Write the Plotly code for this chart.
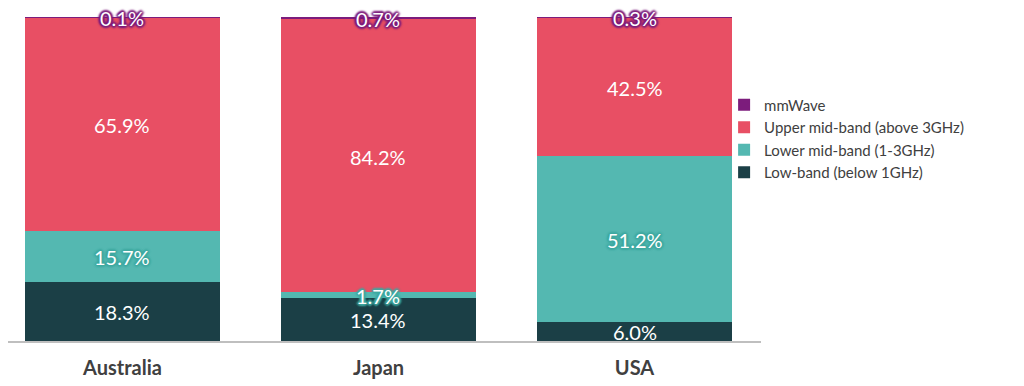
import plotly.graph_objects as go

countries = ["Australia", "Japan", "USA"]
low_band = [18.3, 13.4, 6.0]
lower_mid = [15.7, 1.7, 51.2]
upper_mid = [65.9, 84.2, 42.5]
mmwave = [0.1, 0.7, 0.3]

def glow(c):
    return ", ".join(f"{dx}px {dy}px 2px {c}" for dx, dy in
                     [(1, 1), (-1, -1), (1, -1), (-1, 1), (0, 2), (0, -2), (2, 0), (-2, 0)])

series = [
    ("Low-band (below 1GHz)", low_band, "#1b3f46", None),
    ("Lower mid-band (1-3GHz)", lower_mid, "#54b8b1", glow("#3fa9a1")),
    ("Upper mid-band (above 3GHz)", upper_mid, "#e84f64", None),
    ("mmWave", mmwave, "#7c1c7c", glow("#7c1c7c")),
]

FONT = "Lato, 'Open Sans', sans-serif"

fig = go.Figure()
base = [0.0] * len(countries)
annotations = []
for name, vals, color, shadow in series:
    fig.add_trace(go.Bar(
        x=countries, y=vals, name=name,
        marker=dict(color=color, line=dict(width=0)),
        hoverinfo="skip",
    ))
    mids = [b + v / 2 for b, v in zip(base, vals)]
    base = [b + v for b, v in zip(base, vals)]
    tf = dict(color="white", size=20, family=FONT)
    if shadow:
        tf["shadow"] = shadow
    for c, m, v in zip(countries, mids, vals):
        annotations.append(dict(
            x=c, y=m, xref="x", yref="y", text=f"{v:.1f}%",
            showarrow=False, font=tf, yshift=-1,
            xanchor="center", yanchor="middle",
        ))

fig.update_layout(
    barmode="stack",
    bargap=0.238,
    width=1016, height=378,
    margin=dict(l=0, r=263, t=9, b=45),
    plot_bgcolor="white", paper_bgcolor="white",
    font=dict(family=FONT, color="#404040"),
    annotations=annotations,
    legend=dict(
        x=0.951, xanchor="left", y=0.625, yanchor="middle",
        traceorder="reversed", bgcolor="rgba(0,0,0,0)",
        font=dict(size=15, color="#404040", family=FONT),
        itemwidth=30, tracegroupgap=0,
    ),
    showlegend=True,
)
fig.update_xaxes(
    range=[-0.447, 2.494],
    showline=True, linecolor="#bfbfbf", linewidth=1.5,
    ticks="", showgrid=False, ticklabelstandoff=8,
    tickfont=dict(size=20, color="#404040", family=FONT, weight="bold"),
)
fig.update_yaxes(range=[0, 100], visible=False, showgrid=False)

fig.write_html("out.html")
